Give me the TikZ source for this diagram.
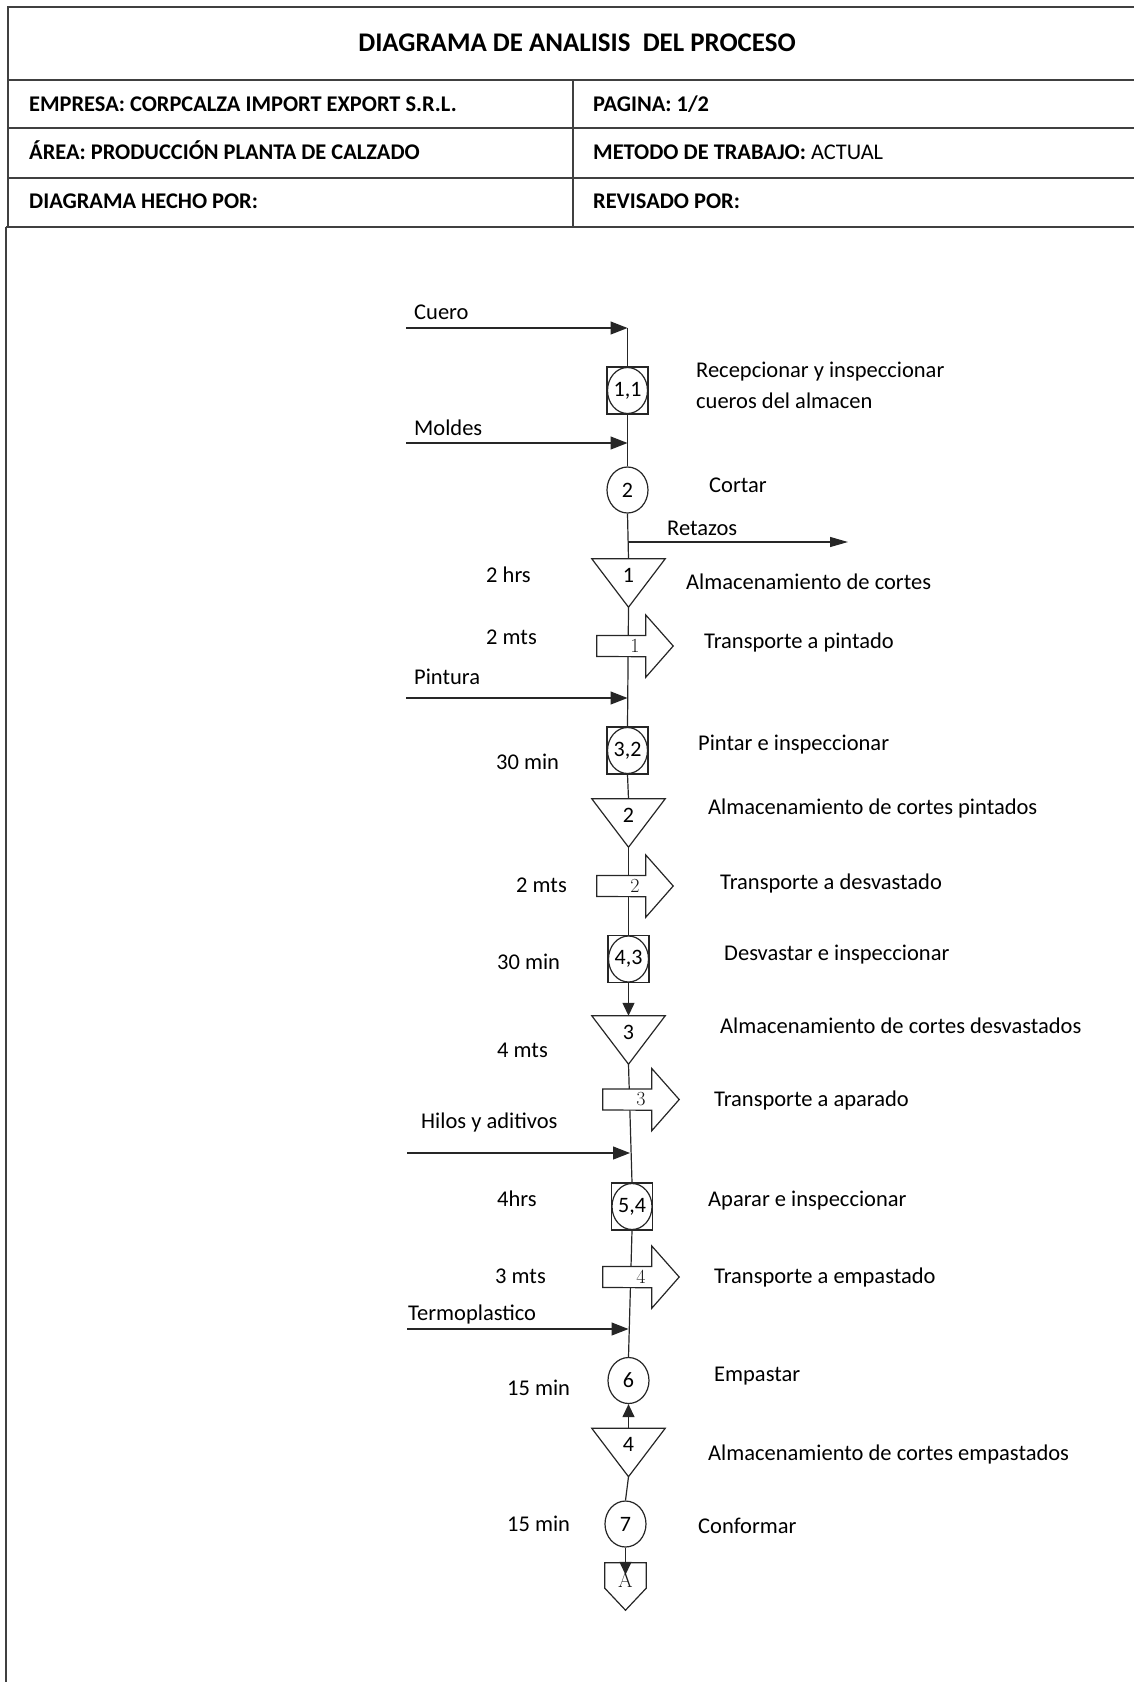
\documentclass[tikz,border=0pt]{standalone}
\usepackage{fontspec}
\setsansfont{Carlito}
\usetikzlibrary{arrows.meta,shapes.geometric}
\pgfdeclarelayer{background}
\pgfsetlayers{background,main}

\begin{document}
\begin{tikzpicture}[x=1pt,y=-1pt,
  rule/.style={line width=1.4pt, draw=black!75},
  flow/.style={line width=1.2pt, draw=black!85},
  inarrow/.style={flow, -{Triangle[length=17pt,width=13pt]}},
  outarrow/.style={flow, -{Triangle[length=18pt,width=10pt]}},
  downarrow/.style={flow, -{Triangle[length=13pt,width=12pt]}},
  title/.style={font=\sffamily\bfseries\fontsize{26.9}{30}\selectfont, inner sep=0},
  hdr/.style={font=\sffamily\bfseries\fontsize{22.4}{26}\selectfont, anchor=base west, inner sep=0, yshift=-7pt},
  txt/.style={font=\sffamily\fontsize{22.5}{26}\selectfont, anchor=base west, inner sep=0, yshift=-7pt},
  num/.style={font=\sffamily\fontsize{22}{22}\selectfont},
  opinsp/.style={draw=black!85, line width=1.2pt, fill=white, minimum width=41pt, minimum height=47pt, inner sep=0, num,
    path picture={\draw[flow] (path picture bounding box.center) ellipse (20pt and 23pt);}},
  oper/.style={ellipse, draw=black!85, line width=1.2pt, fill=white, minimum width=41pt, minimum height=46pt, inner sep=0, num},
  storage/.style={minimum width=73pt, minimum height=48pt, inner sep=0, text height=23pt, text depth=25pt, num,
    append after command={\pgfextra{\draw[flow] (\tikzlastnode.north west) -- (\tikzlastnode.north east) -- (\tikzlastnode.south) -- cycle;}}},
  transport/.style={minimum width=76pt, minimum height=62pt, inner sep=0,
    append after command={\pgfextra{\draw[flow, fill=white] ([yshift=10.5pt]\tikzlastnode.west) -- ++(49pt,0) -- ++(0,20.5pt) -- (\tikzlastnode.east) -- ([xshift=49pt]\tikzlastnode.south west) -- ++(0,20.5pt) -- ([yshift=-10.5pt]\tikzlastnode.west) -- cycle;}}},
  tnum/.style={label={[font=\rmfamily\fontsize{20}{20}\selectfont, text=black!90, inner sep=0]center:#1}},
  offpage/.style={minimum width=41pt, minimum height=47pt, inner sep=0, text height=24pt, text depth=23pt,
    font=\rmfamily\fontsize{21}{21}\selectfont, text=black!90,
    append after command={\pgfextra{\draw[flow] (\tikzlastnode.north west) -- (\tikzlastnode.north east) -- ([yshift=22pt]\tikzlastnode.south east) -- (\tikzlastnode.south) -- ([yshift=22pt]\tikzlastnode.south west) -- cycle;}}}
]
\useasboundingbox (0,0) rectangle (1134,1682);

% ---- header table ----
\draw[rule] (1134,7) -- (8,7) -- (8,227);
\draw[rule] (8,80) -- (1134,80);
\draw[rule] (8,128) -- (1134,128);
\draw[rule] (8,178) -- (1134,178);
\draw[rule] (573,80) -- (573,227);
\draw[rule, line width=2pt] (6,227) -- (1134,227);
\draw[rule] (6,227) -- (6,1682);

\node[title] (ttl) at (577,43) {DIAGRAMA DE ANALISIS~~DEL PROCESO};
\node[hdr] (emp) at (29,104) {EMPRESA: CORPCALZA IMPORT EXPORT S.R.L.};
\node[hdr] (pag) at (593,104) {PAGINA: 1/2};
\node[hdr] (are) at (29,152) {ÁREA: PRODUCCIÓN PLANTA DE CALZADO};
\node[hdr] (met) at (593,152) {METODO DE TRABAJO:\mdseries\ ACTUAL};
\node[hdr] (hec) at (29,201) {DIAGRAMA HECHO POR:};
\node[hdr] (rev) at (593,201) {REVISADO POR:};

% ---- process symbols ----
\node[opinsp] (b11) at (627.5,390.5) {1,1};
\node[oper] (c2) at (627.5,490) {2};
\node[storage] (t1) at (628.5,583) {1};
\node[transport, tnum=1] (tr1) at (635,646) {};
\node[opinsp] (b32) at (627.5,750.5) {3,2};
\node[storage] (t2) at (628.5,823) {2};
\node[transport, tnum=2] (tr2) at (635,886) {};
\node[opinsp] (b43) at (628.5,959) {4,3};
\node[storage] (t3) at (628.5,1040) {3};
\node[transport, tnum=3] (tr3) at (641,1099.5) {};
\node[opinsp] (b54) at (632,1206.5) {5,4};
\node[transport, tnum=4] (tr4) at (641,1277) {};
\node[oper] (c6) at (628.5,1380.5) {6};
\node[storage] (t4) at (628.5,1452.5) {4};
\node[oper] (c7) at (625.5,1524) {7};
\node[offpage] (offA) at (625.5,1586.5) {A};

% ---- free ends of the material lines ----
\coordinate (cu) at (406,328);
\coordinate (mo) at (406,443);
\coordinate (re) at (848,542);
\coordinate (pi) at (406,698);
\coordinate (hi) at (407,1153);
\coordinate (te) at (407,1329);
\coordinate (hj) at (630,1153);

% ---- connectors ----
\begin{pgfonlayer}{background}
\draw[inarrow] (cu) -- (cu -| b11);
\draw[flow] (cu -| b11) -- (b11.north);
\draw[flow] (b11.south) -- (c2.north);
\draw[inarrow] (mo) -- (mo -| c2);
\draw[flow] (c2.south) -- (t1.north);
\draw[outarrow] (re -| c2) -- (re);
\draw[flow] (t1.south) -- (b32.north);
\draw[inarrow] (pi) -- (pi -| b32);
\draw[flow] (b32.south) -- (t2.north);
\draw[flow] (t2.south) -- (b43.north);
\draw[downarrow] (b43.south) -- (t3.north);
\draw[flow] (t3.south) -- (b54.north);
\draw[inarrow] (hi) -- (hj);
\draw[flow] (b54.south) -- (c6.north);
\draw[inarrow] (te) -- (te -| c6);
\draw[downarrow] (t4.north) -- (c6.south);
\draw[flow] (t4.south) -- (c7.north);
\draw[downarrow] (c7.south) -- ([yshift=-12pt]offA.north);
\end{pgfonlayer}

% ---- captions ----
\node[txt] (lcu) at (414,312) {Cuero};
\node[txt] (lmo) at (414,428) {Moldes};
\node[txt] (d11a) at (696,370) {Recepcionar y inspeccionar};
\node[txt] (d11b) at (696,401) {cueros del almacen};
\node[txt] (d2) at (709,485) {Cortar};
\node[txt] (lre) at (667,528) {Retazos};
\node[txt] (q1) at (486,575) {2 hrs};
\node[txt] (dt1) at (686,582) {Almacenamiento de cortes};
\node[txt] (q2) at (486,637) {2 mts};
\node[txt] (dtr1) at (704,641) {Transporte a pintado};
\node[txt] (lpi) at (414,677) {Pintura};
\node[txt] (q3) at (496,762) {30 min};
\node[txt] (d32) at (698,743) {Pintar e inspeccionar};
\node[txt] (dt2) at (708,807) {Almacenamiento de cortes pintados};
\node[txt] (q4) at (516,885) {2 mts};
\node[txt] (dtr2) at (720,882) {Transporte a desvastado};
\node[txt] (q5) at (497,962) {30 min};
\node[txt] (d43) at (724,953) {Desvastar e inspeccionar};
\node[txt] (dt3) at (720,1026) {Almacenamiento de cortes desvastados};
\node[txt] (q6) at (497,1050) {4 mts};
\node[txt] (dtr3) at (714,1099) {Transporte a aparado};
\node[txt] (lhi) at (421,1121) {Hilos y aditivos};
\node[txt] (q7) at (497,1199) {4hrs};
\node[txt] (d54) at (708,1199) {Aparar e inspeccionar};
\node[txt] (q8) at (495,1276) {3 mts};
\node[txt] (dtr4) at (714,1276) {Transporte a empastado};
\node[txt] (lte) at (408,1313) {Termoplastico};
\node[txt] (q9) at (507,1388) {15 min};
\node[txt] (d6) at (714,1374) {Empastar};
\node[txt] (dt4) at (708,1453) {Almacenamiento de cortes empastados};
\node[txt] (q10) at (507,1524) {15 min};
\node[txt] (d7) at (698,1526) {Conformar};
\end{tikzpicture}
\end{document}
